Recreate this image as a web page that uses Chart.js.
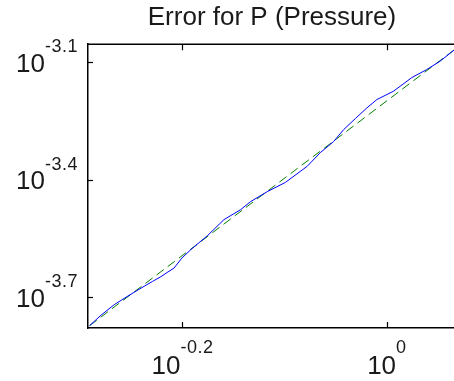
<!DOCTYPE html>
<html>
<head>
<meta charset="utf-8">
<script src="https://cdn.jsdelivr.net/npm/chart.js@4/dist/chart.umd.min.js"></script>
<style>
  html, body { margin: 0; padding: 0; background: #fff; overflow: hidden; }
  #wrap { width: 470px; height: 381px; }
</style>
</head>
<body>
<div id="wrap"><canvas id="errorChart" width="470" height="381"></canvas></div>
<script>
// passo h (eixo x) e erro de P (eixo y)
const hValues = [0.5118, 0.5252, 0.5411, 0.5568, 0.5746, 0.5899, 0.6010, 0.6092, 0.6192, 0.6300,
                 0.6429, 0.6675, 0.6928, 0.7193, 0.7356, 0.7638, 0.7959, 0.8356, 0.8608, 0.8869,
                 0.9072, 0.9314, 0.9561, 0.9777, 1.0148, 1.0578, 1.0939, 1.1272, 1.1685];
const errorP = [1.686e-4, 1.793e-4, 1.908e-4, 2.000e-4, 2.102e-4, 2.188e-4, 2.249e-4, 2.303e-4, 2.367e-4, 2.508e-4,
                2.637e-4, 2.863e-4, 3.146e-4, 3.336e-4, 3.498e-4, 3.709e-4, 3.918e-4, 4.305e-4, 4.667e-4, 4.979e-4,
                5.343e-4, 5.700e-4, 6.072e-4, 6.376e-4, 6.694e-4, 7.256e-4, 7.606e-4, 7.987e-4, 8.608e-4];

// reta de referência (inclinação ~2)
const refH = [0.5118, 1.1685];
const refError = [1.686e-4, 8.608e-4];

// ticks (expoentes de 10)
const xTickExps = [-0.2, 0];
const xTickLabels = ['-0.2', '0'];
const yTickExps = [-3.7, -3.4, -3.1];
const yTickLabels = ['-3.7', '-3.4', '-3.1'];

const FONT = '"Liberation Sans", Arial, sans-serif';
const BASE_FONT = '26px ' + FONT;
const EXP_FONT = '18px ' + FONT;
const EXP_SPACING = '0.5px';

function largura(ctx, texto, fonte, esp) {
    ctx.font = fonte;
    ctx.letterSpacing = esp;
    return ctx.measureText(texto).width;
}

function escrever(ctx, texto, fonte, esp, x, y) {
    ctx.font = fonte;
    ctx.letterSpacing = esp;
    ctx.fillText(texto, x, y);
}

// desenha moldura superior, ticks para dentro e rótulos 10^x
const matlabAxes = {
    id: 'matlabAxes',
    afterDraw(chart) {
        const ctx = chart.ctx;
        const area = chart.chartArea;
        const xs = chart.scales.x;
        const ys = chart.scales.y;
        ctx.save();
        ctx.strokeStyle = '#000';
        ctx.lineWidth = 1.5;
        ctx.beginPath();
        ctx.moveTo(area.left, area.top);
        ctx.lineTo(area.right, area.top);
        ctx.stroke();

        ctx.lineWidth = 1.2;
        xs.ticks.forEach(t => {
            const px = Math.round(xs.getPixelForValue(t.value)) + 0.5;
            ctx.beginPath();
            ctx.moveTo(px, area.bottom);
            ctx.lineTo(px, area.bottom - 6);
            ctx.moveTo(px, area.top);
            ctx.lineTo(px, area.top + 6);
            ctx.stroke();
        });
        ys.ticks.forEach(t => {
            const py = Math.round(ys.getPixelForValue(t.value)) + 0.5;
            ctx.beginPath();
            ctx.moveTo(area.left, py);
            ctx.lineTo(area.left + 5, py);
            ctx.stroke();
        });

        ctx.fillStyle = '#1a1a1a';
        ctx.textAlign = 'left';
        ctx.textBaseline = 'alphabetic';

        // rótulos do eixo y
        ys.ticks.forEach((t, i) => {
            const py = ys.getPixelForValue(t.value);
            const w10 = largura(ctx, '10', BASE_FONT, '0px');
            const wExp = largura(ctx, yTickLabels[i], EXP_FONT, EXP_SPACING);
            const start = 78 - w10 - wExp;
            escrever(ctx, '10', BASE_FONT, '0px', start, py + 9.5);
            escrever(ctx, yTickLabels[i], EXP_FONT, EXP_SPACING, start + w10, py - 10);
        });

        // rótulos do eixo x
        xs.ticks.forEach((t, i) => {
            const px = xs.getPixelForValue(t.value);
            const w10 = largura(ctx, '10', BASE_FONT, '0px');
            const wExp = largura(ctx, xTickLabels[i], EXP_FONT, EXP_SPACING);
            const start = px - (w10 + wExp) / 2;
            escrever(ctx, '10', BASE_FONT, '0px', start, 374);
            escrever(ctx, xTickLabels[i], EXP_FONT, EXP_SPACING, start + w10, 353);
        });
        ctx.restore();
    }
};

const ctx = document.getElementById('errorChart').getContext('2d');
new Chart(ctx, {
    type: 'line',
    data: {
        datasets: [{
            label: 'Erro',
            data: hValues.map((h, i) => ({ x: h, y: errorP[i] })),
            borderColor: '#0000ff',
            borderWidth: 1,
            pointRadius: 0,
            tension: 0
        }, {
            label: 'Referência',
            data: refH.map((h, i) => ({ x: h, y: refError[i] })),
            borderColor: '#008000',
            borderWidth: 1,
            borderDash: [9, 5],
            pointRadius: 0,
            tension: 0
        }]
    },
    options: {
        responsive: false,
        animation: false,
        layout: { padding: { left: 0, right: 14, top: 0, bottom: 0 } },
        plugins: {
            legend: { display: false },
            tooltip: { enabled: false },
            title: {
                display: true,
                fullSize: false,
                text: 'Error for P (Pressure)',
                color: '#1a1a1a',
                font: { family: FONT, size: 26, weight: 'normal' },
                padding: { top: 2, bottom: 11 }
            }
        },
        scales: {
            x: {
                type: 'logarithmic',
                min: 0.5118,
                max: 1.1685,
                grid: { display: false },
                border: { display: true, color: '#000', width: 1.5 },
                ticks: { display: false },
                afterBuildTicks: s => { s.ticks = xTickExps.map(e => ({ value: Math.pow(10, e) })); },
                afterFit: s => { s.height = 53; }
            },
            y: {
                type: 'logarithmic',
                min: 1.663e-4,
                max: 8.83e-4,
                grid: { display: false },
                border: { display: true, color: '#000', width: 1.5 },
                ticks: { display: false },
                afterBuildTicks: s => { s.ticks = yTickExps.map(e => ({ value: Math.pow(10, e) })); },
                afterFit: s => { s.width = 88; }
            }
        }
    },
    plugins: [matlabAxes]
});
</script>
</body>
</html>
